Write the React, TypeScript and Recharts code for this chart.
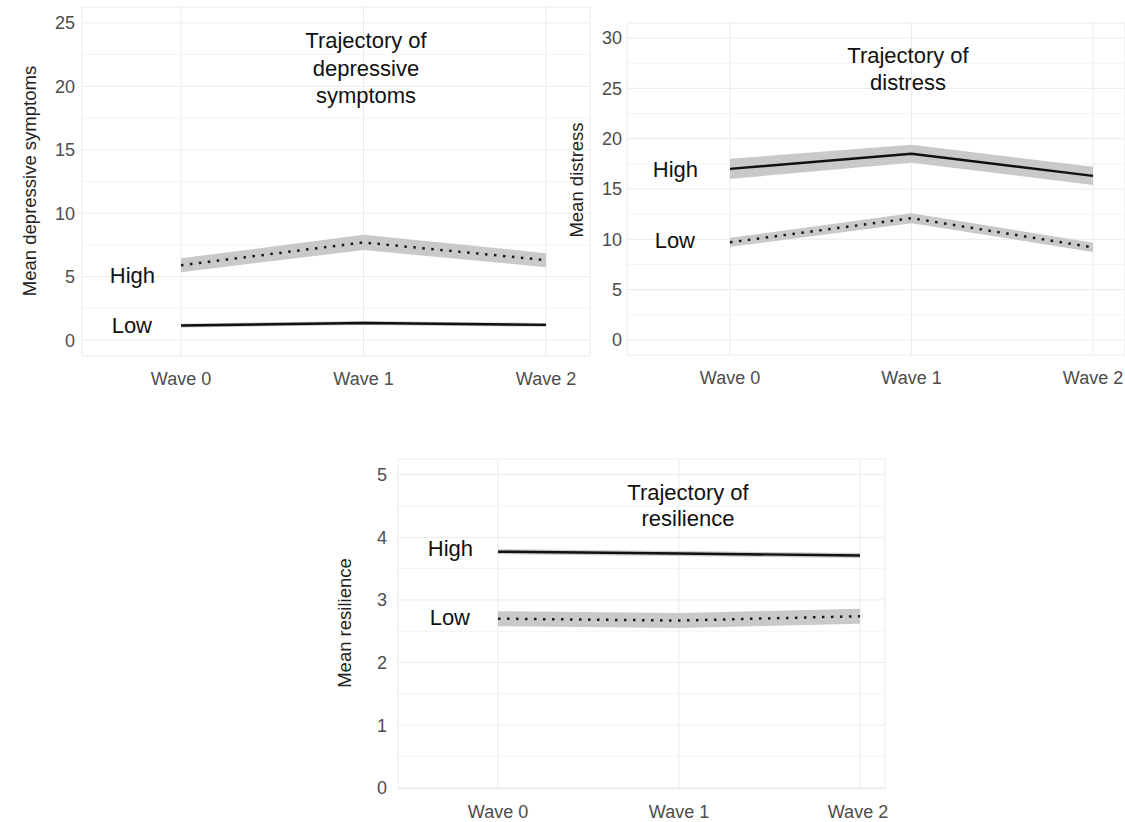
import React from "react";
import {
    ComposedChart,
    Area,
    Line,
    XAxis,
    YAxis,
    CartesianGrid,
    ReferenceDot,
} from "recharts";

const FONT = "'Liberation Sans', Arial, sans-serif";

const waves = ["Wave 0", "Wave 1", "Wave 2"];

// depressive symptoms
const depHigh = [5.9, 7.7, 6.3];
const depHighLo = [5.35, 7.1, 5.75];
const depHighHi = [6.45, 8.3, 6.85];
const depLow = [1.15, 1.35, 1.2];
const depLowLo = [1.0, 1.2, 1.05];
const depLowHi = [1.3, 1.5, 1.35];
const depTicks = [0, 5, 10, 15, 20, 25];
const depMinor = [2.5, 7.5, 12.5, 17.5, 22.5];

// distress
const disHigh = [17.0, 18.5, 16.3];
const disHighLo = [16.0, 17.6, 15.4];
const disHighHi = [18.0, 19.4, 17.2];
const disLow = [9.7, 12.1, 9.2];
const disLowLo = [9.25, 11.6, 8.75];
const disLowHi = [10.15, 12.6, 9.65];
const disTicks = [0, 5, 10, 15, 20, 25, 30];
const disMinor = [2.5, 7.5, 12.5, 17.5, 22.5, 27.5];

// resilience
const resHigh = [3.77, 3.74, 3.71];
const resHighLo = [3.73, 3.7, 3.67];
const resHighHi = [3.81, 3.78, 3.75];
const resLow = [2.7, 2.67, 2.74];
const resLowLo = [2.58, 2.55, 2.62];
const resLowHi = [2.82, 2.79, 2.86];
const resTicks = [0, 1, 2, 3, 4, 5];
const resMinor = [0.5, 1.5, 2.5, 3.5, 4.5];

function rows(
    high: number[],
    highLo: number[],
    highHi: number[],
    low: number[],
    lowLo: number[],
    lowHi: number[]
) {
    return waves.map((w, i) => ({
        wave: w,
        high: high[i],
        highBand: [highLo[i], highHi[i]],
        low: low[i],
        lowBand: [lowLo[i], lowHi[i]],
    }));
}

const solid = { stroke: "#111", strokeWidth: 2.4 };
const dotted = { stroke: "#1a1a1a", strokeWidth: 2.5, strokeDasharray: "2.5 6.5" };

type PanelProps = {
    data: any[];
    left: number;
    top: number;
    width: number;
    height: number;
    marginTop: number;
    xHeight: number;
    yWidth: number;
    yTickMargin: number;
    padLeft: number;
    padRight: number;
    domain: [number, number];
    ticks: number[];
    minor: number[];
    highDotted: boolean;
    highLabelY: number;
    lowLabelY: number;
    highOffset: number;
    lowOffset: number;
};

function Panel(p: PanelProps) {
    const labelStyle = { fontSize: 22, fill: "#111", fontFamily: FONT };
    return (
        <div style={{ position: "absolute", left: p.left, top: p.top }}>
            <ComposedChart
                width={p.width}
                height={p.height}
                data={p.data}
                margin={{ top: p.marginTop, right: 0, left: 0, bottom: 0 }}
            >
                <CartesianGrid
                    vertical={false}
                    horizontalValues={p.minor}
                    stroke="#f4f4f4"
                />
                <CartesianGrid stroke="#ebebeb" />
                <XAxis
                    dataKey="wave"
                    scale="point"
                    padding={{ left: p.padLeft, right: p.padRight }}
                    axisLine={false}
                    tickLine={false}
                    tickSize={0}
                    tickMargin={16}
                    height={p.xHeight}
                    tick={{ fill: "#4d4d4d", fontSize: 18, fontFamily: FONT }}
                />
                <YAxis
                    width={p.yWidth}
                    domain={p.domain}
                    ticks={p.ticks}
                    allowDataOverflow
                    axisLine={false}
                    tickLine={false}
                    tickSize={0}
                    tickMargin={p.yTickMargin}
                    tick={{ fill: "#4d4d4d", fontSize: 18, fontFamily: FONT }}
                />
                <Area
                    dataKey="highBand"
                    type="linear"
                    stroke="none"
                    fill="#c9c9c9"
                    fillOpacity={1}
                    isAnimationActive={false}
                />
                <Area
                    dataKey="lowBand"
                    type="linear"
                    stroke="none"
                    fill="#c9c9c9"
                    fillOpacity={1}
                    isAnimationActive={false}
                />
                <Line
                    dataKey="high"
                    type="linear"
                    dot={false}
                    activeDot={false}
                    {...(p.highDotted ? dotted : solid)}
                    isAnimationActive={false}
                />
                <Line
                    dataKey="low"
                    type="linear"
                    dot={false}
                    activeDot={false}
                    {...(p.highDotted ? solid : dotted)}
                    isAnimationActive={false}
                />
                <ReferenceDot
                    x="Wave 0"
                    y={p.highLabelY}
                    r={1}
                    fill="none"
                    stroke="none"
                    label={{ value: "High", position: "left", offset: p.highOffset, ...labelStyle }}
                />
                <ReferenceDot
                    x="Wave 0"
                    y={p.lowLabelY}
                    r={1}
                    fill="none"
                    stroke="none"
                    label={{ value: "Low", position: "left", offset: p.lowOffset, ...labelStyle }}
                />
            </ComposedChart>
        </div>
    );
}

export default function App() {
    const titleStyle = { fontSize: 22, fill: "#111", fontFamily: FONT };
    const axisTitle = { fontSize: 18.5, fill: "#222", fontFamily: FONT };
    return (
        <div
            style={{
                position: "absolute",
                left: 0,
                top: 0,
                width: 1125,
                height: 822,
                background: "#fff",
                overflow: "hidden",
                fontFamily: FONT,
            }}
        >
            <style>{".recharts-surface{overflow:visible}"}</style>
            <Panel
                data={rows(depHigh, depHighLo, depHighHi, depLow, depLowLo, depLowHi)}
                left={0}
                top={0}
                width={590}
                height={396}
                marginTop={7}
                xHeight={40}
                yWidth={82}
                yTickMargin={7}
                padLeft={99}
                padRight={44}
                domain={[-1.25, 26.25]}
                ticks={depTicks}
                minor={depMinor}
                highDotted={true}
                highLabelY={5.1}
                lowLabelY={1.2}
                highOffset={25}
                lowOffset={28}
            />
            <Panel
                data={rows(disHigh, disHighLo, disHighHi, disLow, disLowLo, disLowHi)}
                left={560}
                top={0}
                width={565}
                height={395}
                marginTop={23}
                xHeight={40}
                yWidth={67}
                yTickMargin={5}
                padLeft={103}
                padRight={32}
                domain={[-1.5, 31.5]}
                ticks={disTicks}
                minor={disMinor}
                highDotted={false}
                highLabelY={17.0}
                lowLabelY={9.9}
                highOffset={31}
                lowOffset={34}
            />
            <Panel
                data={rows(resHigh, resHighLo, resHighHi, resLow, resLowLo, resLowHi)}
                left={320}
                top={440}
                width={565}
                height={382}
                marginTop={19}
                xHeight={33}
                yWidth={78}
                yTickMargin={11}
                padLeft={100}
                padRight={25}
                domain={[-0.02, 5.25]}
                ticks={resTicks}
                minor={resMinor}
                highDotted={false}
                highLabelY={3.83}
                lowLabelY={2.72}
                highOffset={24}
                lowOffset={27}
            />
            <svg
                width={1125}
                height={822}
                style={{ position: "absolute", left: 0, top: 0, pointerEvents: "none" }}
            >
                <text textAnchor="middle" {...titleStyle}>
                    <tspan x={366} y={48}>Trajectory of</tspan>
                    <tspan x={366} y={76}>depressive</tspan>
                    <tspan x={366} y={103}>symptoms</tspan>
                </text>
                <text textAnchor="middle" {...titleStyle}>
                    <tspan x={908} y={63}>Trajectory of</tspan>
                    <tspan x={908} y={90}>distress</tspan>
                </text>
                <text textAnchor="middle" {...titleStyle}>
                    <tspan x={688} y={500}>Trajectory of</tspan>
                    <tspan x={688} y={526}>resilience</tspan>
                </text>
                <text
                    textAnchor="middle"
                    transform="rotate(-90 30 181)"
                    x={30}
                    y={187}
                    {...axisTitle}
                >
                    Mean depressive symptoms
                </text>
                <text
                    textAnchor="middle"
                    transform="rotate(-90 577 180)"
                    x={577}
                    y={186}
                    {...axisTitle}
                >
                    Mean distress
                </text>
                <text
                    textAnchor="middle"
                    transform="rotate(-90 345 623)"
                    x={345}
                    y={629}
                    {...axisTitle}
                >
                    Mean resilience
                </text>
            </svg>
        </div>
    );
}
